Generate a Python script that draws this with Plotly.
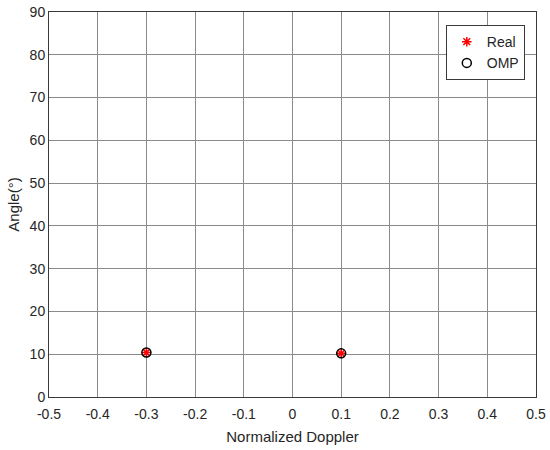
import plotly.graph_objects as go

real_doppler = [-0.3, 0.1]
real_angle = [10.4, 10.2]
omp_doppler = [-0.3, 0.1]
omp_angle = [10.4, 10.2]

x_ticks = [-0.5, -0.4, -0.3, -0.2, -0.1, 0, 0.1, 0.2, 0.3, 0.4, 0.5]
x_labels = ["-0.5", "-0.4", "-0.3", "-0.2", "-0.1", "0", "0.1", "0.2", "0.3", "0.4", "0.5"]
y_ticks = [0, 10, 20, 30, 40, 50, 60, 70, 80, 90]

FONT = "Arial, Liberation Sans, sans-serif"

fig = go.Figure()
fig.add_trace(go.Scatter(x=real_doppler, y=real_angle, mode="markers", name="Real",
                         marker=dict(symbol="asterisk-open", size=8, color="red",
                                     line=dict(color="red", width=1.5))))
fig.add_trace(go.Scatter(x=omp_doppler, y=omp_angle, mode="markers", name="OMP",
                         marker=dict(symbol="circle-open", size=9, color="black",
                                     line=dict(color="black", width=1.5))))

axis_common = dict(showgrid=True, gridcolor="#8a8a8a", gridwidth=1,
                   showline=True, linecolor="#3a3a3a", linewidth=1, mirror=True,
                   ticks="", zeroline=False, automargin=False,
                   tickfont=dict(family=FONT, size=14, color="#262626"))
fig.update_xaxes(range=[-0.5, 0.5], tickvals=x_ticks, ticktext=x_labels,
                 ticklabelstandoff=4,
                 title=dict(text="Normalized Doppler", font=dict(family=FONT, size=15, color="#262626"), standoff=10),
                 **axis_common)
fig.update_yaxes(range=[0, 90], tickvals=y_ticks,
                 title=dict(text="Angle(°)", font=dict(family=FONT, size=15, color="#262626"), standoff=6),
                 **axis_common)
fig.update_layout(width=550, height=450, margin=dict(l=49, r=14, t=12, b=53),
                  plot_bgcolor="white", paper_bgcolor="white",
                  legend=dict(x=0.977, y=0.966, xanchor="right", yanchor="top",
                              bgcolor="white", bordercolor="#3a3a3a", borderwidth=1,
                              font=dict(family=FONT, size=14, color="#262626")))
fig.write_html("out.html", config={"displayModeBar": False},
               post_script="document.body.style.margin='0';document.body.style.overflow='hidden';")
